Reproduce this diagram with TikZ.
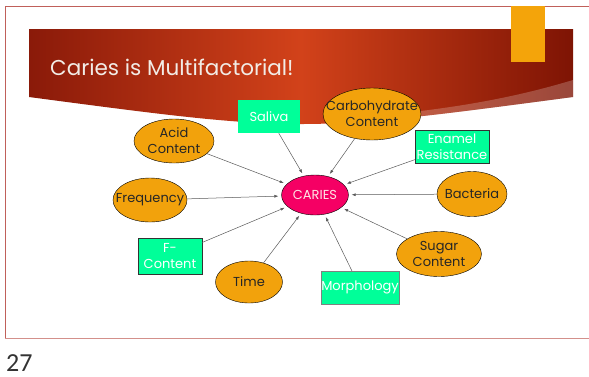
\documentclass[tikz,border=0pt]{standalone}
\usepackage{fontspec}
\setmainfont{Poppins}
\newfontfamily\pagefont{Carlito}
\usetikzlibrary{arrows.meta,shapes.geometric}
\definecolor{framered}{HTML}{C0605A}
\definecolor{bandleft}{HTML}{8A1A09}
\definecolor{bandmid}{HTML}{D2421A}
\definecolor{bandright}{HTML}{7E1404}
\definecolor{titlewhite}{HTML}{F2ECE6}
\definecolor{tabgold}{HTML}{F4A40A}
\definecolor{factorgold}{HTML}{F2A20C}
\definecolor{mintgreen}{HTML}{00FF99}
\definecolor{cariespink}{HTML}{F50064}

\begin{document}
\begin{tikzpicture}[
    x=1pt, y=-1pt,
    factor/.style={ellipse, draw=black, fill=factorgold, inner xsep=-14pt, inner ysep=-4pt, align=center, text=black!85, font=\fontsize{13}{16}\selectfont},
    tag/.style={rectangle, fill=mintgreen, inner sep=0pt, align=center, text=white, font=\fontsize{13}{16}\selectfont},
    arr/.style={-{Latex[length=4pt,width=3pt]}, draw=black!65, line width=0.5pt, shorten >=3pt},
]
    \useasboundingbox (0,0) rectangle (589,376);

    % Slide frame
    \draw[framered, line width=0.8pt] (5,338) -- (5,6) -- (589,6);
    \draw[framered!70, line width=0.8pt] (5,338) -- (589,338);

    % Title band
    \shade[left color=bandleft, right color=bandright, middle color=bandmid]
        (29,29) -- (573,29) -- (573,97) .. controls (301,133) .. (29,97) -- cycle;
    \begin{scope}
        \clip (29,29) -- (573,29) -- (573,97) .. controls (301,133) .. (29,97) -- cycle;
        \fill[white, opacity=0.22] (573,80) .. controls (500,102) and (430,112) .. (330,120) -- (330,140) -- (580,140) -- cycle;
    \end{scope}
    \node[anchor=base west, inner sep=0pt, text=titlewhite, font=\fontsize{21.5}{24}\selectfont] (title) at (50,75) {Caries is Multifactorial!};

    % Gold tab
    \fill[tabgold] (511,6) rectangle (545,62);

    % Centre
    \node[ellipse, draw=black, fill=cariespink, inner sep=0pt, minimum width=67pt, minimum height=40pt, text=pink!40, font=\fontsize{13}{14}\selectfont] (caries) at (315,195) {CARIES};

    % Factors
    \node[factor, minimum width=98pt, minimum height=52pt] (carbo) at (372,114) {Carbohydrate\\Content};
    \node[factor, minimum width=80pt, minimum height=44pt] (acid) at (174,141) {Acid\\Content};
    \node[factor, minimum width=74pt, minimum height=44pt] (freq) at (150,200) {Frequency};
    \node[factor, minimum width=70pt, minimum height=45pt] (bacteria) at (472,194) {Bacteria};
    \node[factor, minimum width=85pt, minimum height=45pt] (sugar) at (439,254) {Sugar\\Content};
    \node[factor, minimum width=67pt, minimum height=42pt] (time) at (249,282) {Time};

    \node[tag, minimum width=62pt, minimum height=33pt] (saliva) at (269,116.5) {Saliva};
    \node[tag, draw=black!80, minimum width=74pt, minimum height=33pt] (enamel) at (452,146.5) {Enamel\\Resistance};
    \node[tag, draw=black!80, minimum width=64pt, minimum height=36pt] (fcontent) at (170,256) {F-\\Content};
    \node[tag, draw=black!50, minimum width=74pt, minimum height=33pt] (morph) at (360,287.5) {Morphology};

    % Arrows
    \draw[arr] (acid) -- (caries);
    \draw[arr] (saliva) -- (caries);
    \draw[arr] (carbo) -- (caries);
    \draw[arr] (enamel) -- (caries);
    \draw[arr] (bacteria) -- (caries);
    \draw[arr] (freq) -- (caries);
    \draw[arr] (fcontent) -- (caries);
    \draw[arr] (time) -- (caries);
    \draw[arr] (morph) -- (caries);
    \draw[arr] (sugar) -- (caries);

    % Page number
    \node[anchor=base west, inner sep=0pt, text=black!80, font=\pagefont\fontsize{26}{28}\selectfont] (pagenum) at (6,371) {27};
\end{tikzpicture}
\end{document}
